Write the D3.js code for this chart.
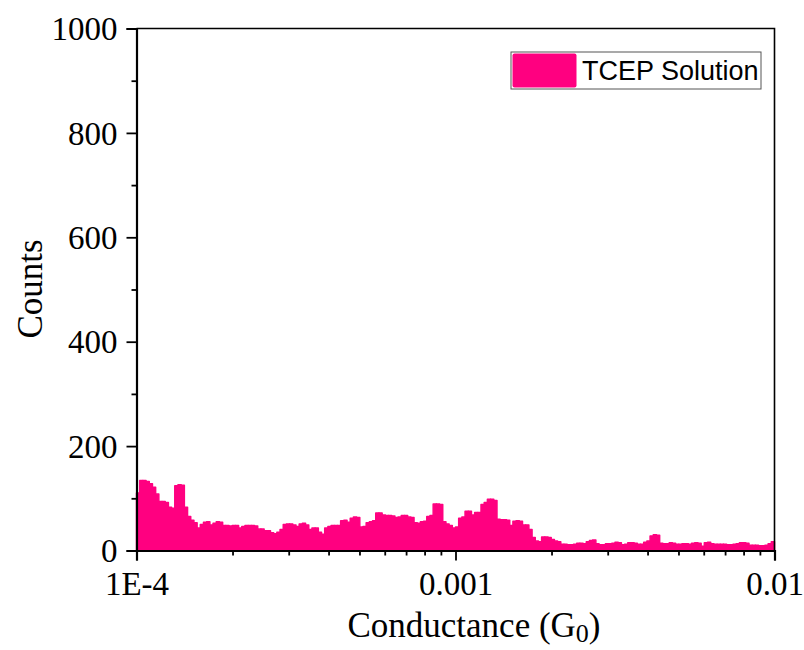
<!DOCTYPE html>
<html>
<head>
<meta charset="utf-8">
<script src="https://cdn.jsdelivr.net/npm/d3@7"></script>
<style>
  body { margin: 0; background: #fff; }
  text { font-family: "Liberation Serif", "Times New Roman", serif; fill: #000; }
</style>
</head>
<body>
<svg width="804" height="650"></svg>
<script>
'use strict';

// histogram counts, 200 log-spaced bins from 1E-4 to 0.01 (0.01 decade each)
var counts = [
  110, 134, 134, 132, 128, 121, 108, 94, 94, 92, 83, 81, 124, 126, 125, 83, 65, 58, 53, 43,
  50, 54, 55, 49, 52, 55, 54, 48, 48, 47, 48, 48, 43, 46, 48, 48, 48, 47, 41, 41,
  38, 38, 34, 32, 35, 40, 50, 51, 51, 49, 46, 51, 52, 49, 40, 43, 43, 35, 31, 43,
  46, 48, 48, 48, 57, 58, 54, 62, 64, 63, 45, 46, 53, 55, 57, 72, 72, 68, 67, 67,
  66, 63, 64, 67, 67, 64, 63, 53, 52, 55, 56, 65, 67, 89, 89, 88, 55, 51, 48, 43,
  45, 62, 64, 75, 75, 68, 73, 73, 88, 92, 98, 98, 96, 60, 59, 59, 58, 48, 56, 57,
  56, 49, 49, 40, 25, 18, 17, 26, 26, 25, 21, 18, 17, 12, 12, 11, 11, 12, 14, 14,
  13, 17, 19, 20, 13, 11, 11, 13, 13, 14, 16, 15, 11, 12, 15, 15, 14, 12, 12, 16,
  18, 28, 30, 29, 14, 13, 13, 15, 14, 12, 12, 13, 13, 12, 14, 15, 14, 8, 15, 16,
  13, 12, 12, 12, 12, 11, 11, 12, 13, 15, 15, 14, 10, 10, 10, 9, 9, 10, 13, 17
];
var logStart = -4,
    logStep = 0.01;

var xTicks = [1e-4, 1e-3, 1e-2],
    xTickLabels = ['1E-4', '0.001', '0.01'],
    yTicks = [0, 200, 400, 600, 800, 1000];

var seriesName = 'TCEP Solution',
    barColor = '#ff0080';

var svg = d3.select('svg'),
    plotLeft = 136.5,
    plotRight = 774.5,
    plotTop = 28.5,
    plotBottom = 550.5;

var x = d3.scaleLog().domain([1e-4, 1e-2]).range([plotLeft, plotRight]);
var y = d3.scaleLinear().domain([0, 1000]).range([plotBottom, plotTop]);

var bins = counts.map(function(c, i) {
    return {
        x0: Math.pow(10, logStart + i * logStep),
        x1: Math.pow(10, logStart + (i + 1) * logStep),
        count: c
    };
});

// bars
svg.append('g')
    .selectAll('rect')
    .data(bins)
    .enter()
    .append('rect')
    .attr('x', function(d) { return x(d.x0); })
    .attr('width', function(d) { return x(d.x1) - x(d.x0); })
    .attr('y', function(d) { return y(d.count); })
    .attr('height', function(d) { return plotBottom - y(d.count); })
    .attr('fill', barColor)
    .attr('stroke', barColor)
    .attr('stroke-width', 1.5)
    .attr('stroke-linejoin', 'round');

// frame
svg.append('path')
    .attr('d', 'M' + plotLeft + ',' + plotTop + 'H' + plotRight + 'V' + plotBottom)
    .attr('fill', 'none')
    .attr('stroke', '#000')
    .attr('stroke-width', 1.6);

// y axis
var yAxis = svg.append('g')
    .attr('transform', 'translate(' + plotLeft + ',0)')
    .call(d3.axisLeft(y).tickValues(yTicks).tickSize(10).tickPadding(9).tickFormat(d3.format('d')));
svg.append('g')
    .attr('transform', 'translate(' + plotLeft + ',0)')
    .call(d3.axisLeft(y).tickValues(d3.range(100, 1000, 200)).tickSize(5).tickFormat(''))
    .call(function(g) { g.select('.domain').remove(); });

// x axis
var xAxis = svg.append('g')
    .attr('transform', 'translate(0,' + plotBottom + ')')
    .call(d3.axisBottom(x).tickValues(xTicks).tickSize(10)
        .tickFormat(function(d, i) { return xTickLabels[i]; }));
var minorX = [];
[1e-4, 1e-3].forEach(function(base) {
    d3.range(2, 10).forEach(function(m) { minorX.push(base * m); });
});
svg.append('g')
    .attr('transform', 'translate(0,' + plotBottom + ')')
    .call(d3.axisBottom(x).tickValues(minorX).tickSize(5).tickFormat(''))
    .call(function(g) { g.select('.domain').remove(); });

svg.selectAll('.domain').attr('stroke-width', 2.2);
svg.selectAll('.tick line').attr('stroke-width', 1.8);
svg.selectAll('.tick text')
    .style('font-family', '"Liberation Serif", serif')
    .style('font-size', '33px')
    .attr('fill', '#000');
yAxis.selectAll('.tick text').attr('dy', '0.34em');
xAxis.selectAll('.tick text').attr('y', 44.5).attr('dy', 0);

// axis titles
svg.append('text')
    .attr('transform', 'translate(42,289) rotate(-90)')
    .attr('text-anchor', 'middle')
    .style('font-size', '35px')
    .text('Counts');

var xt = svg.append('text')
    .attr('x', 474)
    .attr('y', 637)
    .attr('text-anchor', 'middle')
    .style('font-size', '35px');
xt.append('tspan').text('Conductance (G');
xt.append('tspan').attr('dy', 5).style('font-size', '26px').text('0');
xt.append('tspan').attr('dy', -5).text(')');

// legend
var legend = svg.append('g').attr('transform', 'translate(511,52)');
legend.append('rect')
    .attr('width', 250)
    .attr('height', 37)
    .attr('fill', '#fff')
    .attr('stroke', '#555')
    .attr('stroke-width', 1);
legend.append('rect')
    .attr('x', 1.5)
    .attr('y', 1.5)
    .attr('width', 64)
    .attr('height', 34)
    .attr('rx', 2)
    .attr('fill', barColor);
legend.append('text')
    .attr('x', 71)
    .attr('y', 27.5)
    .style('font-family', '"Liberation Sans", Arial, sans-serif')
    .style('font-size', '27px')
    .text(seriesName);
</script>
</body>
</html>
